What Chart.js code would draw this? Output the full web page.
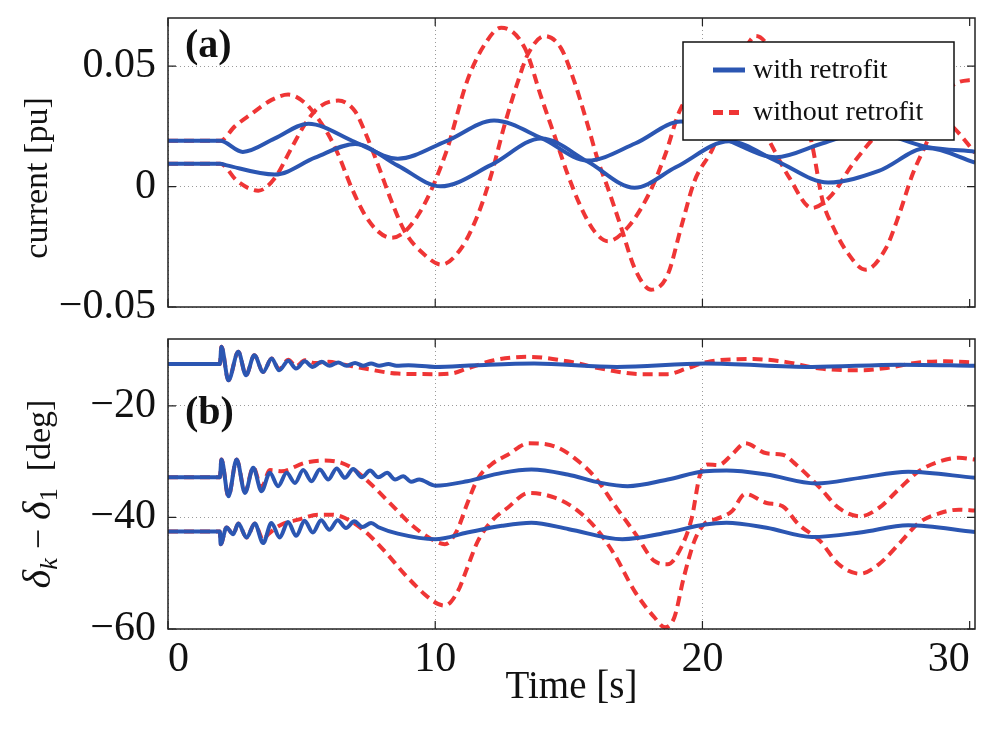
<!DOCTYPE html>
<html>
<head>
<meta charset="utf-8">
<script src="https://cdn.jsdelivr.net/npm/chart.js@4.4.1/dist/chart.umd.min.js"></script>
<style>
  html, body { margin: 0; padding: 0; background: #fff; }
  #wrap { position: relative; width: 995px; height: 729px; }
  canvas { position: absolute; left: 0; }
  #top { top: 0; }
  #bottom { top: 320px; }
</style>
</head>
<body>
<div id="wrap">
  <canvas id="top" width="995" height="320"></canvas>
  <canvas id="bottom" width="995" height="409"></canvas>
</div>
<script>
// ticks
const timeTicks = [0, 10, 20, 30];
const currentTicks = [-0.05, 0, 0.05];
const angleTicks = [-60, -40, -20];

// (a) current [pu], with retrofit
const iWith1T = [0, 1.95, 2.8, 4.0, 5.25, 7.0, 8.6, 10.4, 12.2, 14.0, 15.7, 17.5, 19.2, 21.0, 22.75, 24.5, 26.2, 28.4, 30.2];
const iWith1 = [0.019, 0.019, 0.0144, 0.020, 0.0261, 0.0185, 0.0116, 0.0188, 0.0274, 0.020, 0.0108, 0.018, 0.027, 0.019, 0.0122, 0.018, 0.023, 0.0165, 0.0145];
const iWith2T = [0, 1.95, 2.2, 4.0, 5.5, 7.0, 8.6, 10.2, 12.1, 13.97, 15.7, 17.46, 19.0, 21.0, 22.8, 24.7, 26.6, 28.4, 30.2];
const iWith2 = [0.0095, 0.0095, 0.0088, 0.005, 0.012, 0.0177, 0.0087, 0.0001, 0.009, 0.020, 0.0104, -0.0005, 0.008, 0.0188, 0.0105, 0.0017, 0.0065, 0.016, 0.010];

// (a) current [pu], without retrofit
const iWo1T = [0, 1.95, 2.5, 3.1, 3.88, 4.5, 5.12, 5.5, 6.0, 6.37, 6.87, 7.36, 7.86, 8.36, 9.35, 10.4, 11.2, 11.85, 12.47, 13.35,
  13.97, 14.5, 14.96, 15.46, 15.96, 16.46, 17.2, 18.0, 18.6, 19.2, 20.5, 21.6, 22.5, 23.25, 24.1, 24.85, 25.6, 26.4, 27.4, 28.3, 29.4, 30.2];
const iWo1 = [0.019, 0.019, 0.025, 0.030, 0.036, 0.0382, 0.0348, 0.030, 0.0216, 0.0133, -0.0005, -0.0116, -0.0186, -0.0213, -0.012, 0.014, 0.044, 0.059, 0.066, 0.0576,
  0.037, 0.020, 0.005, -0.0087, -0.0186, -0.0227, -0.017, -0.003, 0.013, 0.0327, 0.045, 0.038, 0.019, 0.0037, -0.0089, -0.0033, 0.009, 0.020, 0.030, 0.034, 0.0245, 0.014];
const iWo2T = [0, 1.95, 2.6, 3.38, 4.0, 4.62, 5.12, 5.62, 6.37, 7.0, 7.36, 7.86, 8.36, 8.86, 9.6, 10.23, 10.98, 11.6, 12.1, 12.6,
  13.1, 13.47, 14.1, 14.7, 15.2, 15.7, 16.1, 16.46, 16.96, 17.46, 18.08, 18.7, 19.2, 19.7, 20.45, 21.2, 22.0, 23.0, 24.06, 24.5,
  24.9, 25.4, 26.1, 26.87, 27.36, 27.86, 28.36, 28.86, 29.36, 30.2];
const iWo2 = [0.0095, 0.0095, 0.0022, -0.0017, 0.0036, 0.016, 0.0258, 0.0327, 0.0357, 0.0313, 0.023, 0.009, -0.006, -0.0186, -0.0283, -0.0324, -0.0255, -0.0116, 0.005, 0.0258,
  0.0438, 0.055, 0.0625, 0.0576, 0.0438, 0.0258, 0.0105, -0.0006, -0.017, -0.0338, -0.0428, -0.0366, -0.017, 0.0022, 0.0175, 0.045, 0.0625, 0.048, 0.0195, -0.006,
  -0.017, -0.027, -0.0345, -0.0255, -0.0116, 0.005, 0.0175, 0.031, 0.042, 0.0445];

// (b) angle difference [deg], with retrofit
const dWith1T = [0, 1.94, 2.0, 2.26, 2.63, 2.92, 3.23, 3.56, 3.88, 4.16, 4.5, 4.79, 5.12, 5.41, 5.75, 6.05, 6.37, 6.68, 7.0, 7.3, 7.6, 7.9, 8.25, 8.55, 9.0, 10.0, 11.5, 13.7, 16.8, 20.1, 24.1, 27.4, 30.2];
const dWith1 = [-12.5, -12.5, -9.4, -15.4, -10.3, -14.5, -10.9, -13.9, -11.5, -13.6, -11.9, -13.3, -12.0, -13.0, -12.1, -12.8, -12.2, -12.8, -12.3, -12.8, -12.4, -12.8, -12.5, -12.8, -12.7, -13.0, -12.7, -12.4, -13.0, -12.4, -13.0, -12.6, -12.8];
const dWith2T = [0, 1.94, 2.0, 2.26, 2.57, 2.88, 3.19, 3.5, 3.81, 4.12, 4.44, 4.75, 5.06, 5.37, 5.68, 6.0, 6.31, 6.62, 6.93, 7.25, 7.56, 7.87, 8.2, 8.5, 8.8, 9.1, 9.4,
  10.0, 11.2, 12.5, 13.6, 14.95, 16.2, 17.2, 18.7, 20.1, 20.9, 22.4, 24.25, 25.9, 27.7, 30.2];
const dWith2 = [-32.8, -32.8, -29.6, -36.2, -29.6, -35.6, -31.1, -35.3, -32.0, -34.4, -32.0, -33.8, -31.5, -33.5, -31.4, -33.2, -31.2, -32.9, -31.3, -32.8, -31.6, -32.8, -32.0, -33.2, -32.6, -33.6, -33.2,
  -34.3, -33.5, -32.0, -31.4, -32.3, -33.8, -34.4, -33.2, -31.7, -31.6, -32.3, -33.9, -32.9, -31.8, -32.9];
const dWith3T = [0, 1.94, 1.97, 2.19, 2.44, 2.63, 2.94, 3.25, 3.56, 3.87, 4.18, 4.49, 4.8, 5.11, 5.42, 5.73, 6.04, 6.35, 6.66, 6.97, 7.28, 7.6, 7.9, 8.6,
  10.0, 11.2, 12.5, 13.6, 15.0, 17.0, 18.7, 20.1, 20.9, 22.4, 24.1, 25.9, 27.7, 30.2];
const dWith3 = [-42.5, -42.5, -44.8, -41.8, -43.0, -41.1, -43.6, -41.1, -44.6, -41.0, -43.6, -40.8, -43.3, -40.6, -42.7, -40.5, -42.2, -40.5, -41.9, -40.7, -41.7, -41.0, -41.8, -42.9,
  -43.9, -42.7, -41.5, -40.95, -42.1, -43.9, -42.7, -41.25, -40.95, -41.85, -43.5, -42.7, -41.4, -42.6];

// (b) angle difference [deg], without retrofit
const dWo1T = [0, 1.94, 2.0, 2.26, 2.63, 2.92, 3.23, 3.56, 3.88, 4.16, 4.5, 4.79, 5.12, 5.5, 6.0, 6.5, 7.36, 8.6, 10.0, 10.6, 11.2, 12.2, 13.5, 14.95, 16.2, 17.7, 18.7, 19.4, 20.2, 21.9, 23.1, 24.4, 25.9, 26.9, 28.1, 29.1, 30.2];
const dWo1 = [-12.5, -12.5, -9.4, -15.4, -10.3, -14.5, -10.9, -13.9, -11.5, -13.4, -11.7, -12.9, -11.8, -12.3, -12.1, -12.5, -13.3, -14.2, -14.3, -14.2, -13.3, -11.8, -11.2, -12.0, -13.3, -14.3, -14.3, -13.3, -12.1, -11.6, -12.1, -13.3, -13.6, -13.2, -12.2, -12.0, -12.2];
const dWo2T = [0, 1.94, 2.0, 2.26, 2.57, 2.88, 3.19, 3.5, 3.81, 4.25, 5.12, 5.87, 6.49, 6.87, 7.61, 8.36, 9.11, 9.86, 10.36, 10.8,
  11.2, 11.6, 12.1, 12.7, 13.5, 14.5, 15.2, 16.0, 16.7, 17.5, 18.2, 18.7, 19.2, 19.6, 19.9, 20.2, 20.6, 21.1, 21.6, 22.4,
  23.0, 23.5, 24.4, 25.1, 25.9, 26.6, 27.4, 28.1, 28.9, 29.6, 30.2];
const dWo2 = [-32.8, -32.8, -29.6, -36.2, -29.6, -35.4, -31.0, -34.6, -31.5, -31.7, -30.2, -29.8, -30.2, -31.1, -34.1, -37.7, -41.3, -43.9, -44.8, -42.5,
  -37.5, -33.0, -30.5, -28.8, -26.7, -27.3, -29.3, -32.9, -37.7, -43.0, -47.8, -48.4, -45.4, -40.1, -32.5, -30.5, -30.6, -28.75, -26.7, -28.5,
  -28.75, -30.5, -34.7, -38.3, -39.8, -38.3, -34.7, -31.7, -29.9, -29.3, -29.6];
const dWo3T = [0, 1.94, 1.97, 2.19, 2.44, 2.63, 2.94, 3.25, 3.56, 3.75, 4.25, 4.87, 5.62, 6.12, 6.62, 7.36, 8.1, 8.86, 9.6, 10.1,
  10.36, 10.85, 11.2, 11.6, 12.1, 12.7, 13.5, 14.5, 15.2, 16.0, 16.7, 17.46, 18.2, 18.6, 18.95, 19.3, 19.7, 20.1, 20.5, 21.1,
  21.6, 22.4, 23.0, 23.6, 24.4, 25.1, 25.9, 26.6, 27.4, 28.1, 28.9, 29.6, 30.2];
const dWo3 = [-42.5, -42.5, -44.8, -41.8, -43.0, -41.1, -43.6, -41.1, -44.0, -43.0, -41.25, -40.4, -39.5, -39.5, -40.1, -42.45, -46.0, -50.2, -53.75, -55.5,
  -55.8, -53.2, -49.0, -44.2, -40.7, -38.3, -35.6, -36.5, -38.3, -41.85, -46.6, -53.2, -57.9, -59.7, -57.9, -50.8, -44.2, -41.0, -40.3, -38.9,
  -35.8, -37.4, -38.0, -41.25, -44.2, -48.4, -50.1, -48.4, -44.5, -40.95, -39.2, -38.6, -38.75];

const BLUE = '#2b56b2';
const RED = '#ef3535';
const SERIF = '"Liberation Serif", "Times New Roman", serif';
Chart.defaults.font.family = SERIF;
Chart.defaults.color = '#111';

const pts = (t, v) => t.map((x, i) => ({ x: x, y: v[i] }));

function withLine(t, v) {
  return { label: 'with retrofit', data: pts(t, v), borderColor: BLUE, borderWidth: 4,
    pointRadius: 0, cubicInterpolationMode: 'monotone', fill: false };
}
function withoutLine(t, v) {
  return { label: 'without retrofit', data: pts(t, v), borderColor: RED, borderWidth: 4, borderDash: [10, 6],
    pointRadius: 0, cubicInterpolationMode: 'monotone', fill: false };
}

const gridColor = c => (c.tick && c.tick.value === 30) ? 'rgba(0,0,0,0)' : '#9a9a9a';

// frame, inward ticks, panel letter, y title and legend
const panelPlugin = {
  id: 'panel',
  afterDatasetsDraw(chart, args, opts) {
    const { ctx, chartArea: a, scales } = chart;
    ctx.save();
    ctx.strokeStyle = '#222';
    ctx.lineWidth = 1.5;
    ctx.strokeRect(a.left, a.top, a.right - a.left, a.bottom - a.top);
    ctx.lineWidth = 1.2;
    ctx.beginPath();
    timeTicks.forEach(v => {
      const x = scales.x.getPixelForValue(v);
      ctx.moveTo(x, a.bottom); ctx.lineTo(x, a.bottom - 8);
      ctx.moveTo(x, a.top); ctx.lineTo(x, a.top + 8);
    });
    opts.yTicks.forEach(v => {
      const y = scales.y.getPixelForValue(v);
      ctx.moveTo(a.left, y); ctx.lineTo(a.left + 8, y);
      ctx.moveTo(a.right, y); ctx.lineTo(a.right - 8, y);
    });
    ctx.stroke();

    ctx.fillStyle = '#111';
    ctx.font = 'bold 40px ' + SERIF;
    ctx.textAlign = 'left';
    ctx.textBaseline = 'alphabetic';
    ctx.fillText(opts.letter, 185, opts.letterY);

    if (opts.legend) {
      ctx.fillStyle = '#fff';
      ctx.fillRect(683, 42, 271, 98);
      ctx.strokeStyle = '#111';
      ctx.lineWidth = 1.5;
      ctx.strokeRect(683, 42, 271, 98);
      ctx.lineWidth = 5;
      ctx.strokeStyle = BLUE;
      ctx.beginPath(); ctx.moveTo(713, 70); ctx.lineTo(745, 70); ctx.stroke();
      ctx.strokeStyle = RED;
      ctx.setLineDash([10, 6]);
      ctx.beginPath(); ctx.moveTo(713, 112.5); ctx.lineTo(745, 112.5); ctx.stroke();
      ctx.setLineDash([]);
      ctx.fillStyle = '#111';
      ctx.font = '28px ' + SERIF;
      ctx.fillText('with retrofit', 753, 78);
      ctx.fillText('without retrofit', 753, 120);
    }
    ctx.restore();
  },
  afterDraw(chart, args, opts) {
    const ctx = chart.ctx;
    ctx.save();
    ctx.fillStyle = '#111';
    ctx.translate(opts.titleX, opts.titleY);
    ctx.rotate(-Math.PI / 2);
    ctx.textBaseline = 'alphabetic';
    let w = 0;
    opts.title.forEach(p => { ctx.font = p.f; w += ctx.measureText(p.t).width; });
    let x = -w / 2;
    opts.title.forEach(p => {
      ctx.font = p.f;
      ctx.fillText(p.t, x, p.dy || 0);
      x += ctx.measureText(p.t).width;
    });
    ctx.restore();
  }
};

function yAxis(min, max, ticks, fmt) {
  return {
    min: min, max: max,
    afterBuildTicks: s => { s.ticks = ticks.map(v => ({ value: v })); },
    // fixed width, and no extra room asked for the end labels
    afterFit: s => { s.width = 168; s.paddingTop = 0; s.paddingBottom = 0; },
    ticks: { padding: 12, color: '#111', font: { size: 42 }, callback: fmt },
    grid: { drawTicks: false, color: '#9a9a9a', lineWidth: 1 },
    border: { display: false, dash: [1, 3] }
  };
}

new Chart(document.getElementById('top'), {
  type: 'line',
  data: {
    datasets: [
      withLine(iWith1T, iWith1), withLine(iWith2T, iWith2),
      withoutLine(iWo1T, iWo1), withoutLine(iWo2T, iWo2)
    ]
  },
  options: {
    responsive: false, animation: false, events: [],
    layout: { padding: { top: 18, right: 20, bottom: 0, left: 0 } },
    scales: {
      x: {
        type: 'linear', min: 0, max: 30.2,
        afterBuildTicks: s => { s.ticks = timeTicks.map(v => ({ value: v })); },
        afterFit: s => { s.height = 13; },
        ticks: { display: false },
        grid: { drawTicks: false, color: gridColor, lineWidth: 1 },
        border: { display: false, dash: [1, 3] }
      },
      y: yAxis(-0.05, 0.07, currentTicks, v => v === 0 ? '0' : (v < 0 ? '\u2212' : '') + Math.abs(v).toFixed(2))
    },
    plugins: {
      legend: { display: false },
      tooltip: { enabled: false },
      panel: {
        letter: '(a)', letterY: 57, legend: true, yTicks: currentTicks,
        titleX: 47, titleY: 178,
        title: [{ t: 'current [pu]', f: '34px ' + SERIF }]
      }
    }
  },
  plugins: [panelPlugin]
});

new Chart(document.getElementById('bottom'), {
  type: 'line',
  data: {
    datasets: [
      withLine(dWith1T, dWith1), withLine(dWith2T, dWith2), withLine(dWith3T, dWith3),
      withoutLine(dWo1T, dWo1), withoutLine(dWo2T, dWo2), withoutLine(dWo3T, dWo3)
    ]
  },
  options: {
    responsive: false, animation: false, events: [],
    layout: { padding: { top: 19, right: 20, bottom: 0, left: 0 } },
    scales: {
      x: {
        type: 'linear', min: 0, max: 30.2,
        afterBuildTicks: s => { s.ticks = timeTicks.map(v => ({ value: v })); },
        afterFit: s => { s.height = 100; s.paddingLeft = 0; s.paddingRight = 0; },
        ticks: { padding: 6, align: 'inner', maxRotation: 0, color: '#111', font: { size: 42 } },
        grid: { drawTicks: false, color: gridColor, lineWidth: 1 },
        border: { display: false, dash: [1, 3] },
        title: { display: true, text: 'Time [s]', color: '#111', font: { size: 39 }, padding: { top: 0, bottom: 18 } }
      },
      y: yAxis(-60, -8, angleTicks, v => '\u2212' + Math.abs(v))
    },
    plugins: {
      legend: { display: false },
      tooltip: { enabled: false },
      panel: {
        letter: '(b)', letterY: 104, legend: false, yTicks: angleTicks,
        titleX: 50, titleY: 174,
        title: [
          { t: '\u03b4', f: 'italic 40px ' + SERIF },
          { t: 'k', f: 'italic 26px ' + SERIF, dy: 7 },
          { t: ' \u2212 ', f: '36px ' + SERIF },
          { t: '\u03b4', f: 'italic 40px ' + SERIF },
          { t: '1', f: '26px ' + SERIF, dy: 7 },
          { t: '  [deg]', f: '34px ' + SERIF }
        ]
      }
    }
  },
  plugins: [panelPlugin]
});
</script>
</body>
</html>
